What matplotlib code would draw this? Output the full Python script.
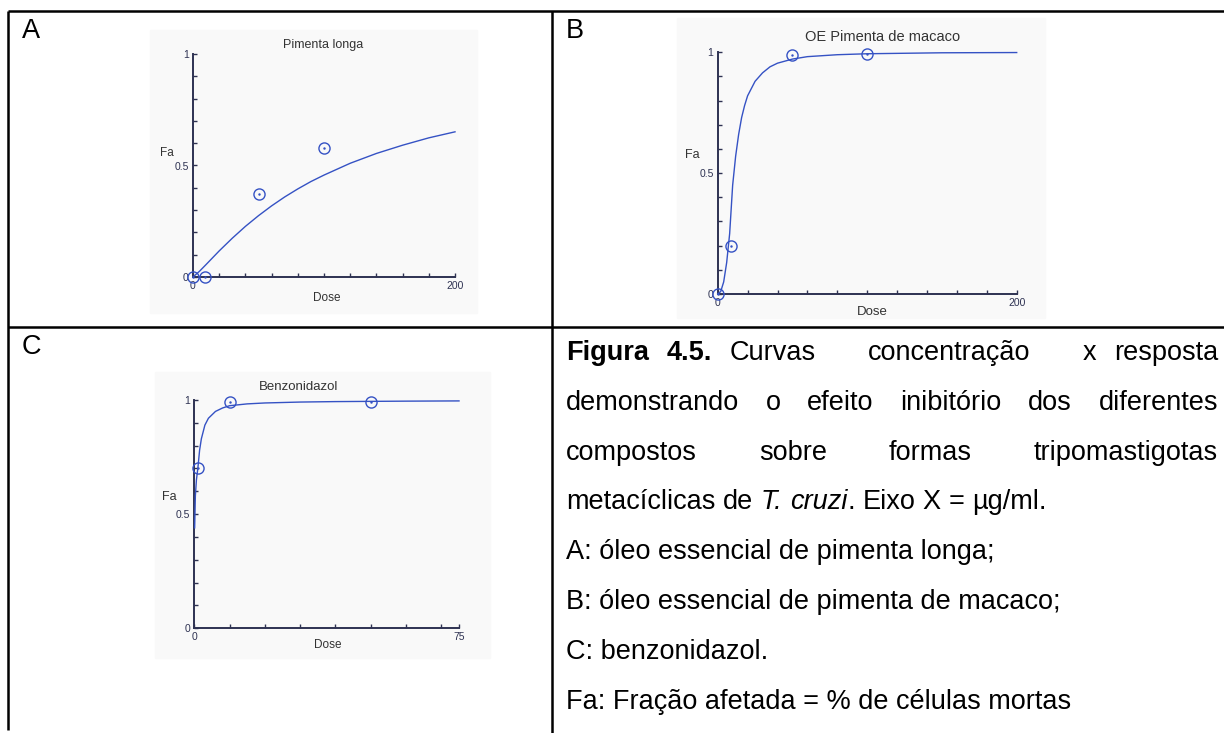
import matplotlib
matplotlib.use("Agg")
import matplotlib.pyplot as plt
from matplotlib.lines import Line2D
from matplotlib.patches import Rectangle

# ===== global settings =====
W, H = 1224, 733
FONT = "Liberation Sans"
BLUE = "#3552c4"
AXIS_COLOR = "#2e3252"
TICK_COLOR = "#2e3252"
LABEL_COLOR = "#333333"
CAPTION_SIZE = 19.5

plt.rcParams["font.family"] = [FONT, "DejaVu Sans"]

# ===== data =====
# A: Pimenta longa
a_curve_dose = [0, 5, 10, 20, 30, 40, 50, 60, 70, 80, 90, 100, 120, 140, 160, 180, 200]
a_curve_fa = [0.0, 0.026, 0.056, 0.117, 0.174, 0.227, 0.275, 0.319, 0.359, 0.395,
              0.428, 0.457, 0.510, 0.554, 0.591, 0.624, 0.651]
a_pts_dose = [0, 9, 50, 100]
a_pts_fa = [0.0, 0.0, 0.37, 0.58]

# B: OE Pimenta de macaco
b_curve_dose = [0, 2, 4, 6, 8, 10, 12, 14, 16, 18, 20, 25, 30, 35, 40, 50, 60, 80, 100, 150, 200]
b_curve_fa = [0.0, 0.01, 0.05, 0.13, 0.25, 0.45, 0.57, 0.66, 0.73, 0.78, 0.82, 0.88, 0.915,
              0.94, 0.955, 0.972, 0.982, 0.99, 0.994, 0.998, 0.999]
b_pts_dose = [0, 9, 50, 100]
b_pts_fa = [0.0, 0.2, 0.99, 0.995]

# C: Benzonidazol
c_curve_dose = [0.1, 0.3, 0.6, 1, 1.5, 2, 3, 4, 6, 8, 10, 15, 20, 30, 40, 50, 60, 75]
c_curve_fa = [0.44, 0.58, 0.65, 0.70, 0.78, 0.83, 0.89, 0.92, 0.95, 0.965, 0.975,
              0.983, 0.987, 0.991, 0.993, 0.994, 0.995, 0.996]
c_pts_dose = [1, 10, 50]
c_pts_fa = [0.70, 0.99, 0.99]

# caption lines: (text, style, spaces before)
caption_lines = [
    ([("Figura", "bold", 0), ("4.5.", "bold", 1), ("Curvas", "normal", 1),
      ("concentração", "normal", 3), ("x", "normal", 3), ("resposta", "normal", 1)], True),
    ([("demonstrando", "normal", 0), ("o", "normal", 1), ("efeito", "normal", 1),
      ("inibitório", "normal", 1), ("dos", "normal", 1), ("diferentes", "normal", 1)], True),
    ([("compostos", "normal", 0), ("sobre", "normal", 1), ("formas", "normal", 1),
      ("tripomastigotas", "normal", 1)], True),
    ([("metacíclicas", "normal", 0), ("de", "normal", 1), ("T.", "italic", 1),
      ("cruzi", "italic", 1), (".", "normal", 0), ("Eixo", "normal", 1), ("X", "normal", 1),
      ("=", "normal", 1), ("µg/ml.", "normal", 1)], False),
    ([("A: óleo essencial de pimenta longa;", "normal", 0)], False),
    ([("B: óleo essencial de pimenta de macaco;", "normal", 0)], False),
    ([("C: benzonidazol.", "normal", 0)], False),
    ([("Fa: Fração afetada = % de células mortas", "normal", 0)], False),
]


def fx(x):
    return x / W


def fy(y):
    return 1 - y / H


def ftext(x, y, s, **kw):
    return fig.text(fx(x), fy(y), s, **kw)


def draw_panel(box, bg, curve_x, curve_y, pts_x, pts_y, xmax, xstep):
    x0, x1, ytop, ybot = box
    fig.add_artist(Rectangle((fx(bg[0]), fy(bg[3])), fx(bg[1] - bg[0]), (bg[3] - bg[2]) / H,
                             transform=fig.transFigure, color="#f9f9f9", zorder=0))
    ax = fig.add_axes([fx(x0), fy(ybot), fx(x1 - x0), (ybot - ytop) / H])
    ax.patch.set_alpha(0)
    ax.plot(curve_x, curve_y, color=BLUE, lw=1.0, clip_on=False, zorder=3)
    ax.plot(pts_x, pts_y, "o", mfc="none", mec=BLUE, ms=8, mew=1.0, clip_on=False, zorder=4)
    ax.plot(pts_x, pts_y, ".", color=BLUE, ms=1.5, clip_on=False, zorder=4)
    ax.set_xlim(0, xmax)
    ax.set_ylim(0, 1)
    for s in ["top", "right"]:
        ax.spines[s].set_visible(False)
    for s in ["left", "bottom"]:
        ax.spines[s].set_color(AXIS_COLOR)
        ax.spines[s].set_linewidth(1.4)
    xt = list(range(0, xmax, xstep)) + [xmax]
    ax.set_xticks(xt)
    ax.set_xticklabels(["0"] + [""] * (len(xt) - 2) + [str(xmax)])
    yt = [i / 10 for i in range(11)]
    ax.set_yticks(yt)
    ax.set_yticklabels(["0"] + [""] * 4 + ["0.5"] + [""] * 4 + ["1"])
    ax.tick_params(direction="in", length=3, width=1.0, color=AXIS_COLOR,
                   labelsize=7.5, labelcolor=TICK_COLOR, pad=3)
    return ax


fig = plt.figure(figsize=(W / 100, H / 100), dpi=100)

# ===== panels =====
draw_panel((193, 455, 54, 277), (150, 477, 30, 313),
           a_curve_dose, a_curve_fa, a_pts_dose, a_pts_fa, 200, 20)
ftext(323, 45, "Pimenta longa", fontsize=9, ha="center", va="center", color=LABEL_COLOR)
ftext(167, 153, "Fa", fontsize=8.5, ha="center", va="center", color=LABEL_COLOR)
ftext(327, 298, "Dose", fontsize=8.5, ha="center", va="center", color=LABEL_COLOR)

draw_panel((717.7, 1016.7, 52.3, 294), (677, 1045, 18, 318),
           b_curve_dose, b_curve_fa, b_pts_dose, b_pts_fa, 200, 20)
ftext(883, 37, "OE Pimenta de macaco", fontsize=10.5, ha="center", va="center", color=LABEL_COLOR)
ftext(692.7, 155, "Fa", fontsize=9, ha="center", va="center", color=LABEL_COLOR)
ftext(872.7, 311.7, "Dose", fontsize=9.5, ha="center", va="center", color=LABEL_COLOR)

draw_panel((194.3, 459, 400, 628.3), (155, 490, 372, 658),
           c_curve_dose, c_curve_fa, c_pts_dose, c_pts_fa, 75, 10)
ftext(299, 387, "Benzonidazol", fontsize=9.5, ha="center", va="center", color=LABEL_COLOR)
ftext(169, 496.7, "Fa", fontsize=9, ha="center", va="center", color=LABEL_COLOR)
ftext(328, 645, "Dose", fontsize=8.5, ha="center", va="center", color=LABEL_COLOR)

# ===== table lines =====
for (xa, ya, xb, yb) in [(7.5, 11, 1224, 11), (7.5, 11, 7.5, 730),
                         (7.5, 326.5, 1224, 326.5), (552, 11, 552, 733)]:
    fig.add_artist(Line2D([fx(xa), fx(xb)], [fy(ya), fy(yb)], transform=fig.transFigure,
                          color="black", lw=1.8, solid_capstyle="butt"))

# panel letters
for letter, x, y in [("A", 22, 31.5), ("B", 566, 31.5), ("C", 22, 347)]:
    ftext(x, y, letter, fontsize=19.5, ha="left", va="center", color="black")

# ===== caption (justified by hand) =====
renderer = fig.canvas.get_renderer()
X_LEFT, X_RIGHT = 566, 1218
BASE0, STEP = 360, 49.8


def width_of(t):
    return t.get_window_extent(renderer).width


probe_a = fig.text(0, 0, "xx", fontsize=CAPTION_SIZE)
probe_b = fig.text(0, 0, "x x", fontsize=CAPTION_SIZE)
space_w = width_of(probe_b) - width_of(probe_a)
probe_a.remove()
probe_b.remove()

for i, (tokens, justify) in enumerate(caption_lines):
    base = BASE0 + i * STEP
    texts, widths = [], []
    for word, style, _ in tokens:
        kw = {"fontsize": CAPTION_SIZE, "va": "baseline", "ha": "left", "color": "black"}
        if style == "bold":
            kw["fontweight"] = "bold"
        elif style == "italic":
            kw["fontstyle"] = "italic"
        t = ftext(0, base, word, **kw)
        texts.append(t)
        widths.append(width_of(t))
    gaps = [tok[2] for tok in tokens[1:]]
    per_space = space_w
    if justify and sum(gaps) > 0:
        per_space = (X_RIGHT - X_LEFT - sum(widths)) / sum(gaps)
    x = X_LEFT
    for j, t in enumerate(texts):
        if j > 0:
            x += gaps[j - 1] * per_space
        t.set_position((fx(x), fy(base)))
        x += widths[j]

fig.savefig("out.png", dpi=100)
